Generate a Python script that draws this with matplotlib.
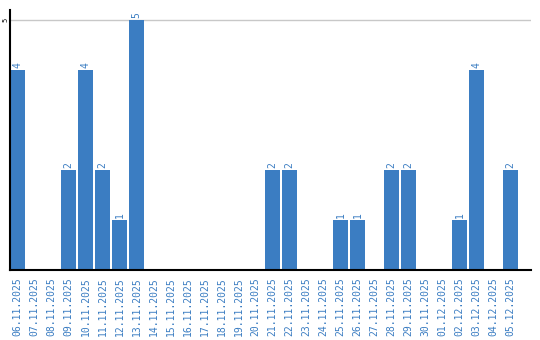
import matplotlib
matplotlib.use("Agg")
import matplotlib.pyplot as plt

dates = ["06.11.2025", "07.11.2025", "08.11.2025", "09.11.2025", "10.11.2025",
         "11.11.2025", "12.11.2025", "13.11.2025", "14.11.2025", "15.11.2025",
         "16.11.2025", "17.11.2025", "18.11.2025", "19.11.2025", "20.11.2025",
         "21.11.2025", "22.11.2025", "23.11.2025", "24.11.2025", "25.11.2025",
         "26.11.2025", "27.11.2025", "28.11.2025", "29.11.2025", "30.11.2025",
         "01.12.2025", "02.12.2025", "03.12.2025", "04.12.2025", "05.12.2025"]
counts = [4, 0, 0, 2, 4, 2, 1, 5, 0, 0,
          0, 0, 0, 0, 0, 2, 2, 0, 0, 1,
          1, 0, 2, 2, 0, 0, 1, 4, 0, 2]

blue = "#3b7dc2"

fig = plt.figure(figsize=(5.4, 3.4), dpi=100)
ax = fig.add_axes([10 / 540, 1 - 270 / 340, 521 / 540, 260 / 340])

x = list(range(len(dates)))
ax.bar(x, counts, width=15 / 17, color=blue, zorder=2)

for i, v in enumerate(counts):
    if v > 0:
        ax.text(i, v + 0.04, str(v), rotation=90, ha="center", va="bottom",
                color=blue, fontsize=7, family="DejaVu Sans Mono")

ax.set_xlim(-0.441, 30.2)
ax.set_ylim(0, 5.2)
ax.set_yticks([5])
ax.set_yticklabels(["5"], rotation=90, va="center", fontsize=5,
                   family="DejaVu Sans Mono")
ax.yaxis.grid(True, color="#c8c8c8", linewidth=1, zorder=0)
ax.tick_params(axis="y", length=0, pad=1)

ax.set_xticks(x)
ax.set_xticklabels(dates, rotation=90, fontsize=7, color=blue,
                   family="DejaVu Sans Mono")
ax.tick_params(axis="x", length=0, pad=5)

for s in ["top", "right"]:
    ax.spines[s].set_visible(False)
ax.spines["left"].set_linewidth(1.5)
ax.spines["bottom"].set_linewidth(1.5)

fig.savefig("out.png", dpi=100)
